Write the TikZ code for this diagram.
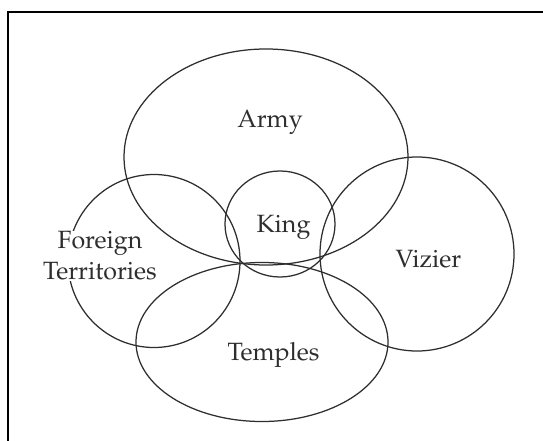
\documentclass[tikz,border=0pt]{standalone}
\usepackage[T1]{fontenc}
\usepackage{mathpazo}
\usetikzlibrary{shapes.geometric}
\definecolor{ink}{HTML}{2E2E2E}
\begin{document}
\begin{tikzpicture}[x=1pt,y=-1pt,
  region/.style={draw=ink, line width=1.25pt, ellipse, inner sep=0pt},
  lbl/.style={font=\fontsize{25}{31}\selectfont, text=ink, align=center, inner sep=1pt},
  frameline/.style={line width=2pt, draw=black}]
\useasboundingbox (0,0) rectangle (543,441);
\fill[white] (0,0) rectangle (543,441);
% page frame (only its top and left edges fall inside the picture)
\coordinate (fbl) at (7.5,441);
\coordinate (ftl) at (7.5,12);
\coordinate (ftr) at (543,12);
\draw[frameline] (fbl) -- (ftl) -- (ftr);
% the five overlapping domains
\node[region, minimum width=284pt, minimum height=216pt] (army) at (266,157) {};
\node[region, minimum width=110pt, minimum height=106pt] (king) at (280,224) {};
\node[region, minimum width=172pt, minimum height=173pt] (foreign) at (154,261) {};
\node[region, minimum width=194pt, minimum height=194pt] (vizier) at (417,254) {};
\node[region, minimum width=252pt, minimum height=159pt] (temples) at (262,342) {};
% labels
\node[lbl, anchor=base] (tarmy) at (270,128) {Army};
\node[lbl, anchor=base] (tking) at (283.5,232) {King};
\node[lbl, fill=white] (tforeign) at (100,256) {Foreign\\Territories};
\node[lbl, anchor=base] (tvizier) at (428.5,267) {Vizier};
\node[lbl, anchor=base] (ttemples) at (273.5,360) {Temples};
\end{tikzpicture}
\end{document}
